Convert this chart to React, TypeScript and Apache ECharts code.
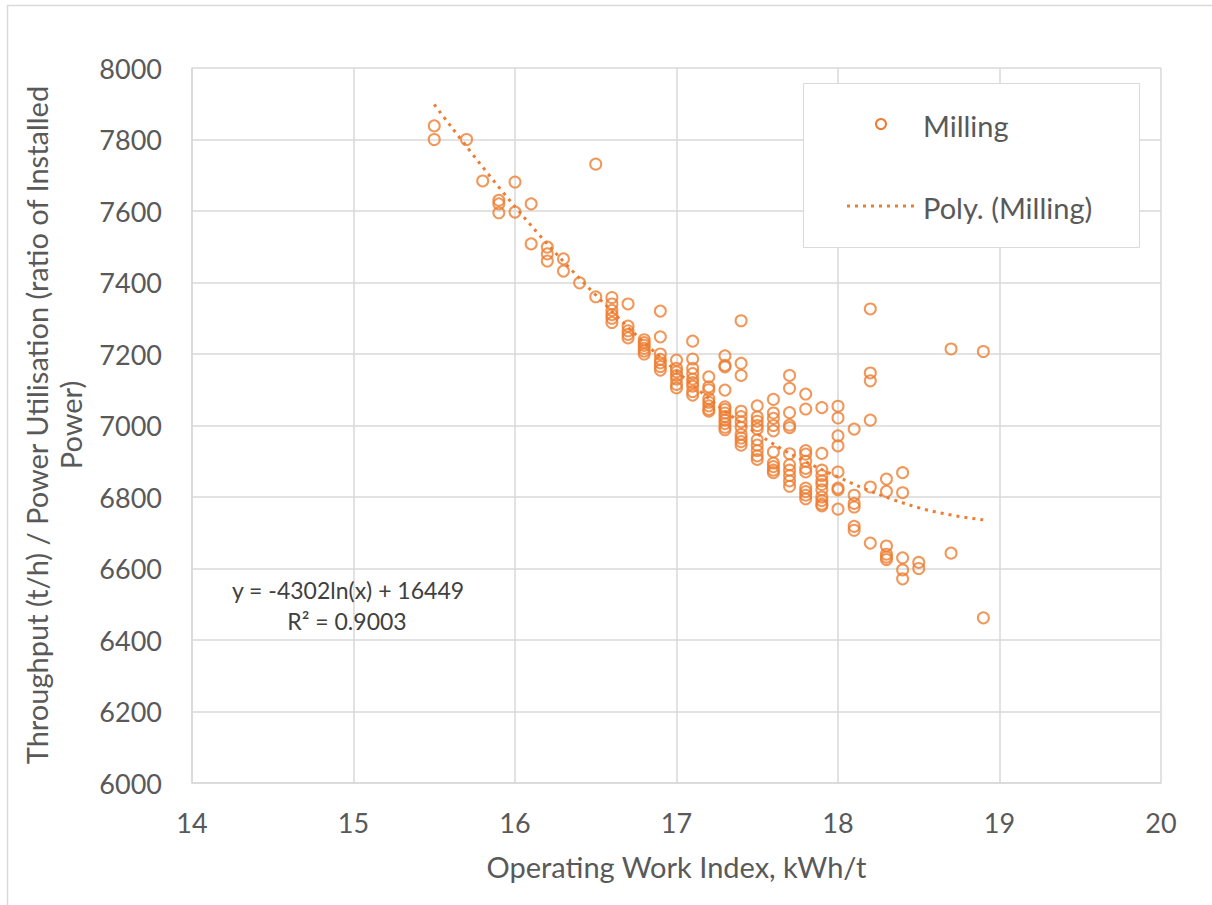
import React, { useEffect, useRef } from "react";
import * as echarts from "echarts";

// Operating Work Index (kWh/t) column values and the throughput points read at each
const workIndex = [15.5, 15.7, 15.8, 15.9, 16.0, 16.1, 16.2, 16.3, 16.4, 16.5, 16.6, 16.7, 16.8, 16.9, 17.0, 17.1, 17.2, 17.3, 17.4, 17.5, 17.6, 17.7, 17.8, 17.9, 18.0, 18.1, 18.2, 18.3, 18.4, 18.5, 18.7, 18.9];
const throughput = [
  [7838, 7800],
  [7800],
  [7684],
  [7630, 7620, 7595],
  [7681, 7597],
  [7620, 7508],
  [7499, 7480, 7460],
  [7466, 7432],
  [7399],
  [7731, 7360],
  [7358, 7340, 7322, 7310, 7300, 7288],
  [7340, 7278, 7265, 7255, 7245],
  [7240, 7232, 7224, 7216, 7208, 7200],
  [7320, 7248, 7200, 7185, 7175, 7165, 7155],
  [7183, 7160, 7150, 7140, 7130, 7115, 7105],
  [7236, 7186, 7160, 7145, 7130, 7120, 7110, 7095, 7085],
  [7136, 7108, 7100, 7075, 7065, 7055, 7045, 7040],
  [7195, 7168, 7164, 7099, 7052, 7045, 7035, 7025, 7015, 7005, 6995, 6988],
  [7293, 7174, 7140, 7040, 7025, 7010, 6995, 6975, 6965, 6955, 6945],
  [7055, 7024, 7012, 7000, 6990, 6960, 6945, 6930, 6915, 6905],
  [7073, 7035, 7020, 7000, 6985, 6926, 6895, 6885, 6875, 6868],
  [7140, 7104, 7036, 7001, 6994, 6921, 6890, 6875, 6860, 6845, 6830],
  [7088, 7046, 6930, 6920, 6900, 6880, 6870, 6825, 6815, 6805, 6795],
  [7050, 6922, 6875, 6860, 6845, 6835, 6820, 6800, 6790, 6780, 6775],
  [7054, 7021, 6971, 6943, 6870, 6825, 6820, 6766],
  [6990, 6805, 6782, 6772, 6718, 6707],
  [7326, 7147, 7125, 7015, 6828, 6671],
  [6850, 6816, 6663, 6640, 6632, 6625],
  [6868, 6812, 6630, 6596, 6571],
  [6617, 6600],
  [7214, 6643],
  [7207, 6462],
];

// Trend line ("Poly. (Milling)")
const trendX = [15.5, 16.0, 16.5, 17.0, 17.5, 18.0, 18.5, 18.9];
const trendY = [7898, 7612, 7365, 7152, 6977, 6856, 6770, 6736];

const xTicks = { min: 14, max: 20, interval: 1 };
const yTicks = { min: 6000, max: 8000, interval: 200 };

const seriesName = "Milling";
const trendName = "Poly. (Milling)";
const equationText = "y = -4302ln(x) + 16449";
const r2Text = "R² = 0.9003";
const xTitle = "Operating Work Index, kWh/t";
const yTitle = "Throughput (t/h) / Power Utilisation (ratio of Installed\nPower)";

const ORANGE = "#ED7D31";
const TEXT = "#595959";
const GRID = "#D9D9D9";
const FONT = "Lato, 'Open Sans', sans-serif";
const TICK_SIZE = 27;
const TITLE_SIZE = 29;

export default function App() {
  const ref = useRef<HTMLDivElement>(null);

  useEffect(() => {
    if (!ref.current) return;
    const chart = echarts.init(ref.current, undefined, { renderer: "svg" });

    const points: number[][] = [];
    workIndex.forEach((x, i) => {
      throughput[i].forEach((y) => points.push([x, y]));
    });
    const trend = trendX.map((x, i) => [x, trendY[i]]);

    chart.setOption({
      animation: false,
      backgroundColor: "#ffffff",
      textStyle: { fontFamily: FONT },
      grid: { left: 192, top: 68, right: 51, bottom: 122, containLabel: false },
      xAxis: {
        type: "value",
        min: xTicks.min,
        max: xTicks.max,
        interval: xTicks.interval,
        axisLine: { show: true, lineStyle: { color: GRID, width: 1.5 } },
        axisTick: { show: false },
        splitLine: { show: true, lineStyle: { color: GRID, width: 1.5 } },
        axisLabel: { color: TEXT, fontSize: TICK_SIZE, margin: 26, fontFamily: FONT, formatter: (v: number) => String(v) },
        name: xTitle,
        nameLocation: "middle",
        nameGap: 69,
        nameTextStyle: { color: TEXT, fontSize: TITLE_SIZE, fontFamily: FONT },
      },
      yAxis: {
        type: "value",
        min: yTicks.min,
        max: yTicks.max,
        interval: yTicks.interval,
        axisLine: { show: true, lineStyle: { color: GRID, width: 1.5 } },
        axisTick: { show: false },
        splitLine: { show: true, lineStyle: { color: GRID, width: 1.5 } },
        axisLabel: { color: TEXT, fontSize: TICK_SIZE, margin: 30, fontFamily: FONT, formatter: (v: number) => String(v) },
      },
      series: [
        {
          name: trendName,
          type: "line",
          data: trend,
          smooth: 0.4,
          symbol: "none",
          lineStyle: { color: ORANGE, width: 3, type: [3, 5] },
          z: 2,
        },
        {
          name: seriesName,
          type: "scatter",
          data: points,
          symbol: "circle",
          symbolSize: 11,
          itemStyle: { color: "rgba(255,255,255,0)", borderColor: ORANGE, borderWidth: 2 },
          z: 3,
        },
      ],
      graphic: [
        {
          type: "rect",
          z: 1,
          silent: true,
          shape: { x: 7.5, y: 5.5, width: 1220, height: 910 },
          style: { fill: "none", stroke: GRID, lineWidth: 1.5 },
        },
        {
          type: "text",
          z: 100,
          x: 53,
          y: 425,
          rotation: Math.PI / 2,
          style: {
            text: yTitle,
            fill: TEXT,
            fontSize: TITLE_SIZE,
            fontFamily: FONT,
            align: "center",
            verticalAlign: "middle",
            lineHeight: 34,
          },
        },
        {
          type: "text",
          z: 100,
          x: 348,
          y: 590,
          style: { text: equationText, fill: "#404040", fontSize: 23, fontFamily: FONT, align: "center", verticalAlign: "middle" },
        },
        {
          type: "text",
          z: 100,
          x: 347,
          y: 621,
          style: { text: r2Text, fill: "#404040", fontSize: 23, fontFamily: FONT, align: "center", verticalAlign: "middle" },
        },
        {
          type: "rect",
          z: 100,
          shape: { x: 803.5, y: 83.5, width: 336, height: 164 },
          style: { fill: "#ffffff", stroke: GRID, lineWidth: 1 },
        },
        {
          type: "circle",
          z: 101,
          shape: { cx: 881, cy: 124, r: 5 },
          style: { fill: "#ffffff", stroke: ORANGE, lineWidth: 2 },
        },
        {
          type: "text",
          z: 101,
          x: 923,
          y: 125,
          style: { text: seriesName, fill: TEXT, fontSize: TITLE_SIZE, fontFamily: FONT, align: "left", verticalAlign: "middle" },
        },
        {
          type: "line",
          z: 101,
          shape: { x1: 847, y1: 206, x2: 914, y2: 206 },
          style: { stroke: ORANGE, lineWidth: 3, lineDash: [3, 5] },
        },
        {
          type: "text",
          z: 101,
          x: 923,
          y: 207,
          style: { text: trendName, fill: TEXT, fontSize: TITLE_SIZE, fontFamily: FONT, align: "left", verticalAlign: "middle" },
        },
      ],
    });

    return () => chart.dispose();
  }, []);

  return (
    <div
      ref={ref}
      style={{ position: "fixed", left: 0, top: 0, width: 1212, height: 905, background: "#fff" }}
    />
  );
}
